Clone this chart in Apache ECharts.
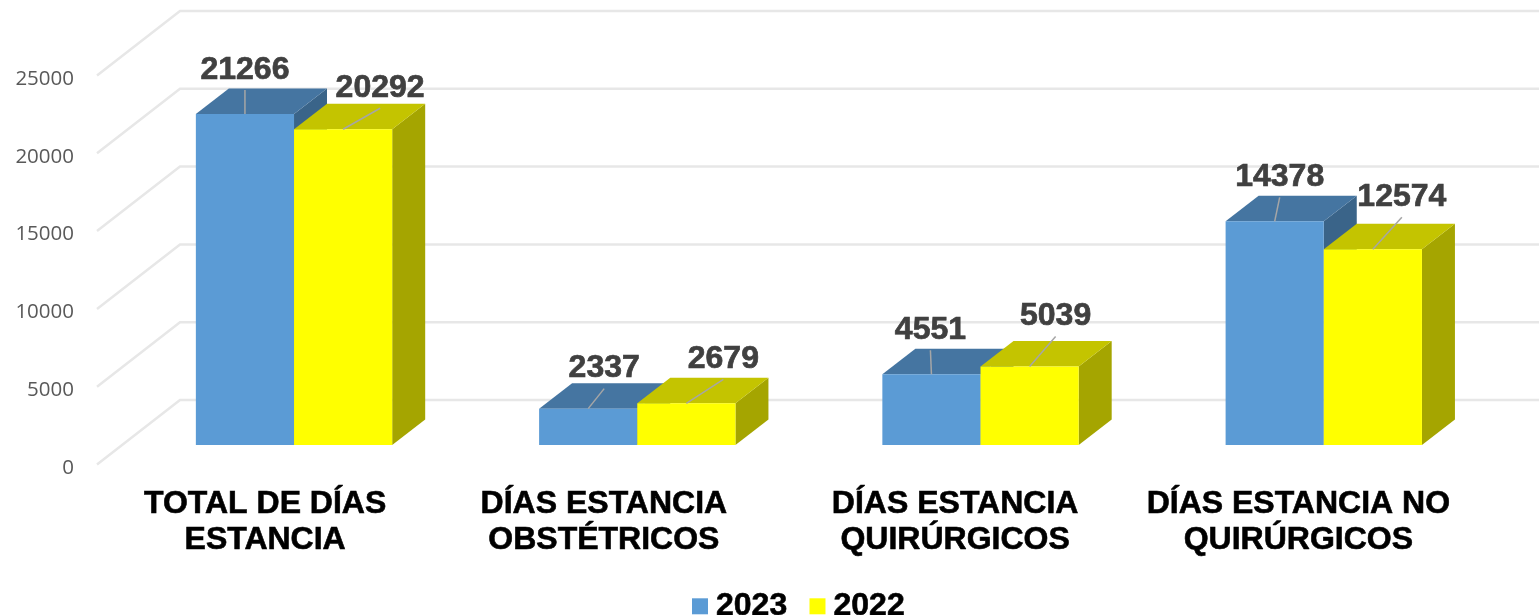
<!DOCTYPE html>
<html>
<head>
<meta charset="utf-8">
<title>Días estancia</title>
<style>
  html, body { margin: 0; padding: 0; background: #fff; }
  #chart { width: 1539px; height: 615px; }
</style>
</head>
<body>
<div id="chart"></div>
<script src="https://cdn.jsdelivr.net/npm/echarts@6/dist/echarts.min.js"></script>
<script>
const categories = [
  'TOTAL DE DÍAS\nESTANCIA',
  'DÍAS ESTANCIA\nOBSTÉTRICOS',
  'DÍAS ESTANCIA\nQUIRÚRGICOS',
  'DÍAS ESTANCIA NO\nQUIRÚRGICOS'
]
const values2023 = [21266, 2337, 4551, 14378]
const values2022 = [20292, 2679, 5039, 12574]
const yTicks = [0, 5000, 10000, 15000, 20000, 25000]

// fake 3d projection, in pixels
const WALL_DEPTH = [83, -64.5]
const BAR_SHIFT = [25.4, -19.5]
const BAR_DEPTH = [33, -25.5]
const BAR_BAND = 0.286

// where each value label sits, relative to the middle of the bar's front top edge
const labelOffsets2023 = [[0, -44], [16, -40], [-1, -44], [5, -44]]
const labelOffsets2022 = [[37, -41], [37, -44], [26, -50], [29, -52]]
// tick label nudge so the names sit like the original
const categoryPadding = [7, 16, 0, 0]

const chart = echarts.init(document.getElementById('chart'))

function renderWall(params, api) {
  const left = params.coordSys.x
  const y = api.coord([0, api.value(1)])[1]
  return {
    type: 'polyline',
    silent: true,
    shape: {
      points: [
        [left, y],
        [left + WALL_DEPTH[0], y + WALL_DEPTH[1]],
        [1545, y + WALL_DEPTH[1]]
      ]
    },
    style: { fill: null, stroke: '#e7e7e7', lineWidth: 2.5 }
  }
}

function barFront(api, slot) {
  const cat = api.value(0)
  const w = api.size([1, 0])[0] * BAR_BAND
  const top = api.coord([cat, api.value(1)])
  const base = api.coord([cat, 0])
  const x0 = top[0] + BAR_SHIFT[0] + slot * w
  return { x0, x1: x0 + w, yTop: top[1] + BAR_SHIFT[1], yBase: base[1] + BAR_SHIFT[1] }
}

function makeBarRender(slot, colors) {
  return function (params, api) {
    const b = barFront(api, slot)
    const dx = BAR_DEPTH[0]
    const dy = BAR_DEPTH[1]
    return {
      type: 'group',
      children: [
        {
          type: 'polygon',
          shape: { points: [[b.x1, b.yTop], [b.x1 + dx, b.yTop + dy], [b.x1 + dx, b.yBase + dy], [b.x1, b.yBase]] },
          style: { fill: colors.side }
        },
        {
          type: 'polygon',
          shape: { points: [[b.x0, b.yTop], [b.x0 + dx, b.yTop + dy], [b.x1 + dx, b.yTop + dy], [b.x1, b.yTop]] },
          style: { fill: colors.top }
        },
        {
          type: 'rect',
          shape: { x: b.x0, y: b.yTop, width: b.x1 - b.x0, height: b.yBase - b.yTop },
          style: { fill: colors.front }
        }
      ]
    }
  }
}

function makeLabelRender(slot, offsets) {
  return function (params, api) {
    const b = barFront(api, slot)
    const off = offsets[params.dataIndex]
    const cx = (b.x0 + b.x1) / 2
    return {
      type: 'group',
      silent: true,
      children: [
        {
          type: 'line',
          shape: { x1: cx, y1: b.yTop, x2: cx + off[0], y2: b.yTop + off[1] + 20 },
          style: { stroke: '#a6a6a6', lineWidth: 1.5 }
        },
        {
          type: 'text',
          style: {
            x: cx + off[0],
            y: b.yTop + off[1],
            text: String(api.value(1)),
            fill: '#404040',
            stroke: '#404040',
            lineWidth: 0.7,
            font: 'bold 32px "Liberation Sans", Arial, sans-serif',
            align: 'center',
            verticalAlign: 'middle'
          }
        }
      ]
    }
  }
}

const toData = arr => arr.map((v, i) => [i, v])

const option = {
  animation: false,
  backgroundColor: '#fff',
  grid: { left: 97, top: 75.5, width: 1373, height: 389 },
  legend: {
    left: 692,
    top: 590,
    padding: 0,
    itemWidth: 16,
    itemHeight: 16,
    itemGap: 22,
    icon: 'rect',
    data: ['2023', '2022'],
    textStyle: {
      color: '#000',
      fontFamily: '"Liberation Sans", Arial, sans-serif',
      fontWeight: 'bold',
      fontSize: 32,
      textBorderColor: '#000',
      textBorderWidth: 0.6,
      padding: [0, 0, 0, 3]
    }
  },
  xAxis: {
    type: 'category',
    data: categories.map((name, i) => ({
      value: name,
      textStyle: { padding: [0, categoryPadding[i], 0, 0] }
    })),
    axisLine: { show: false },
    axisTick: { show: false },
    axisLabel: {
      interval: 0,
      margin: 22,
      color: '#000',
      fontFamily: '"Liberation Sans", Arial, sans-serif',
      fontWeight: 'bold',
      fontSize: 32,
      lineHeight: 36,
      textBorderColor: '#000',
      textBorderWidth: 0.6
    }
  },
  yAxis: {
    type: 'value',
    min: 0,
    max: 25000,
    interval: 5000,
    axisLine: { show: false },
    axisTick: { show: false },
    splitLine: { show: false },
    axisLabel: {
      margin: 23,
      formatter: v => '{n|' + v + '}',
      rich: {
        n: {
          color: '#595959',
          fontFamily: '"Open Sans", sans-serif',
          fontSize: 20.5,
          padding: [7, 0, 0, 0]
        }
      }
    }
  },
  series: [
    {
      name: 'wall',
      type: 'custom',
      z: 1,
      clip: false,
      renderItem: renderWall,
      data: yTicks.map(v => [0, v])
    },
    {
      name: '2023',
      type: 'custom',
      z: 2,
      clip: false,
      itemStyle: { color: '#5b9bd5' },
      renderItem: makeBarRender(-1, { front: '#5b9bd5', top: '#4575a1', side: '#3a6489' }),
      data: toData(values2023)
    },
    {
      name: '2022',
      type: 'custom',
      z: 3,
      clip: false,
      itemStyle: { color: '#ffff00' },
      renderItem: makeBarRender(0, { front: '#ffff00', top: '#c4c400', side: '#a5a500' }),
      data: toData(values2022)
    },
    {
      name: 'labels2023',
      type: 'custom',
      z: 4,
      clip: false,
      renderItem: makeLabelRender(-1, labelOffsets2023),
      data: toData(values2023)
    },
    {
      name: 'labels2022',
      type: 'custom',
      z: 4,
      clip: false,
      renderItem: makeLabelRender(0, labelOffsets2022),
      data: toData(values2022)
    }
  ]
}

chart.setOption(option)
</script>
</body>
</html>
